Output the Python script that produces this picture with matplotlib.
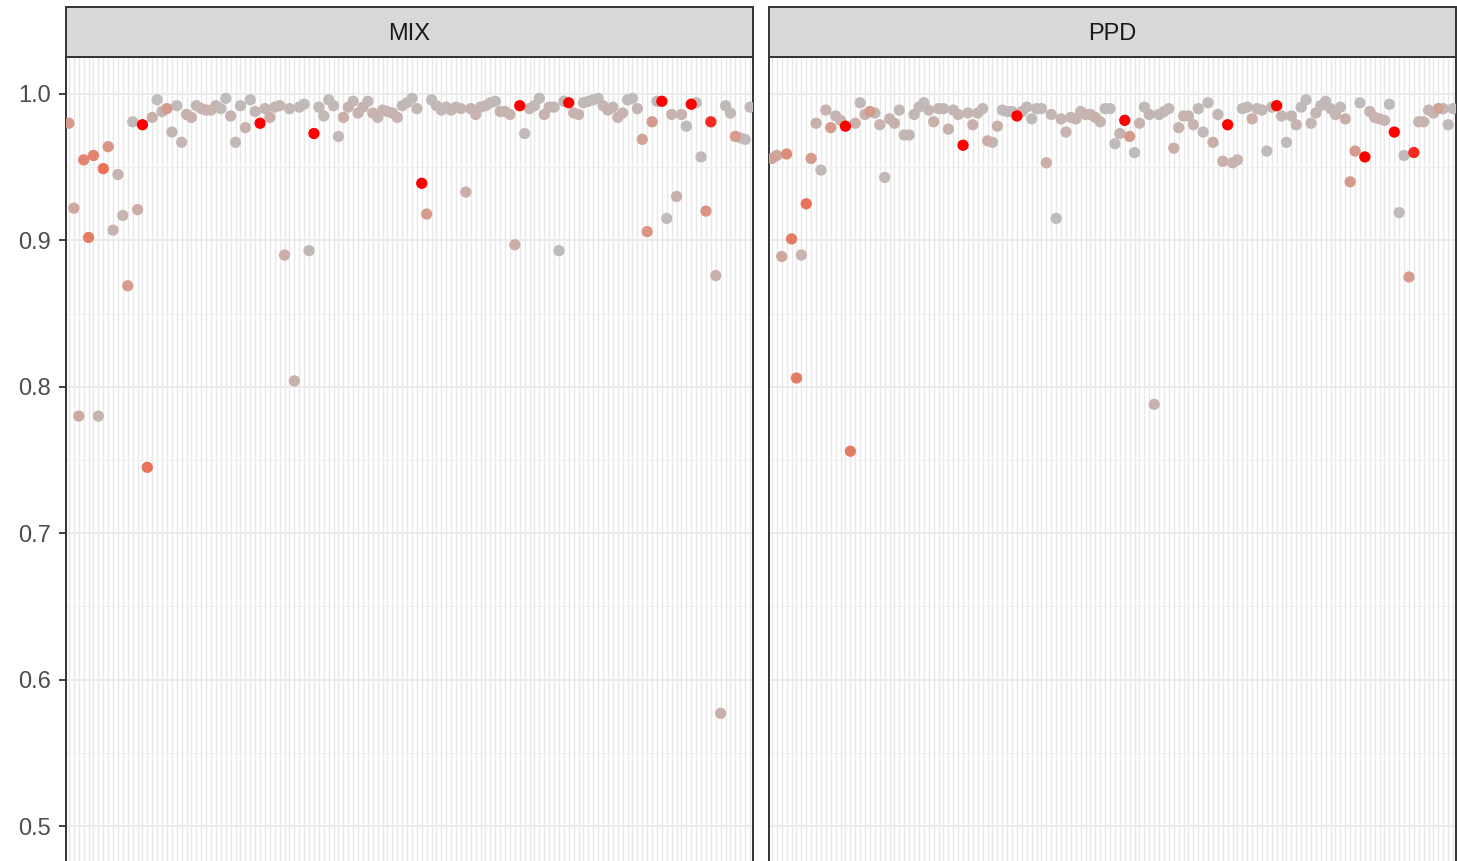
import numpy as np
import matplotlib.pyplot as plt
from matplotlib.colors import LinearSegmentedColormap
from matplotlib.patches import Rectangle

plt.rcParams['font.family'] = ['Liberation Sans', 'DejaVu Sans']

# one score per item (140 items) for each method, plus a 0..1 colour weight
mix_score = [
    0.980, 0.922, 0.780, 0.955, 0.902, 0.958, 0.780, 0.949, 0.964, 0.907,
    0.945, 0.917, 0.869, 0.981, 0.921, 0.979, 0.745, 0.984, 0.996, 0.988,
    0.990, 0.974, 0.992, 0.967, 0.986, 0.984, 0.992, 0.990, 0.989, 0.989,
    0.992, 0.990, 0.997, 0.985, 0.967, 0.992, 0.977, 0.996, 0.988, 0.980,
    0.990, 0.984, 0.991, 0.992, 0.890, 0.990, 0.804, 0.991, 0.993, 0.893,
    0.973, 0.991, 0.985, 0.996, 0.992, 0.971, 0.984, 0.991, 0.995, 0.987,
    0.991, 0.995, 0.987, 0.984, 0.989, 0.988, 0.987, 0.984, 0.992, 0.994,
    0.997, 0.990, 0.939, 0.918, 0.996, 0.992, 0.989, 0.991, 0.989, 0.991,
    0.990, 0.933, 0.990, 0.986, 0.991, 0.992, 0.994, 0.995, 0.988, 0.988,
    0.986, 0.897, 0.992, 0.973, 0.990, 0.992, 0.997, 0.986, 0.991, 0.991,
    0.893, 0.995, 0.994, 0.987, 0.986, 0.994, 0.995, 0.996, 0.997, 0.992,
    0.989, 0.991, 0.984, 0.987, 0.996, 0.997, 0.990, 0.969, 0.906, 0.981,
    0.995, 0.995, 0.915, 0.986, 0.930, 0.986, 0.978, 0.993, 0.994, 0.957,
    0.920, 0.981, 0.876, 0.577, 0.992, 0.987, 0.971, 0.970, 0.969, 0.991,
]
mix_heat = [
    0.45, 0.35, 0.35, 0.60, 0.65, 0.60, 0.20, 0.70, 0.50, 0.20,
    0.20, 0.20, 0.45, 0.05, 0.30, 1.00, 0.70, 0.25, 0.00, 0.20,
    0.45, 0.15, 0.05, 0.15, 0.25, 0.25, 0.15, 0.20, 0.20, 0.20,
    0.10, 0.05, 0.00, 0.20, 0.10, 0.10, 0.20, 0.05, 0.15, 1.00,
    0.15, 0.30, 0.15, 0.15, 0.30, 0.10, 0.25, 0.10, 0.05, 0.10,
    1.00, 0.10, 0.10, 0.05, 0.10, 0.10, 0.30, 0.20, 0.10, 0.20,
    0.20, 0.10, 0.20, 0.15, 0.20, 0.20, 0.20, 0.20, 0.10, 0.05,
    0.05, 0.15, 1.00, 0.45, 0.05, 0.10, 0.10, 0.10, 0.15, 0.10,
    0.15, 0.30, 0.20, 0.20, 0.15, 0.10, 0.10, 0.05, 0.20, 0.20,
    0.20, 0.30, 1.00, 0.05, 0.15, 0.10, 0.05, 0.20, 0.15, 0.10,
    0.05, 0.10, 1.00, 0.20, 0.20, 0.10, 0.05, 0.05, 0.05, 0.15,
    0.20, 0.15, 0.20, 0.20, 0.05, 0.05, 0.15, 0.40, 0.50, 0.45,
    0.05, 1.00, 0.05, 0.20, 0.25, 0.20, 0.05, 1.00, 0.05, 0.05,
    0.50, 0.90, 0.25, 0.25, 0.05, 0.10, 0.45, 0.05, 0.05, 0.05,
]
ppd_score = [
    0.956, 0.958, 0.889, 0.959, 0.901, 0.806, 0.890, 0.925, 0.956, 0.980,
    0.948, 0.989, 0.977, 0.985, 0.982, 0.978, 0.756, 0.980, 0.994, 0.986,
    0.988, 0.987, 0.979, 0.943, 0.983, 0.980, 0.989, 0.972, 0.972, 0.986,
    0.991, 0.994, 0.989, 0.981, 0.990, 0.990, 0.976, 0.989, 0.986, 0.965,
    0.987, 0.979, 0.987, 0.990, 0.968, 0.967, 0.978, 0.989, 0.988, 0.988,
    0.985, 0.988, 0.991, 0.983, 0.990, 0.990, 0.953, 0.986, 0.915, 0.983,
    0.974, 0.984, 0.983, 0.988, 0.986, 0.986, 0.984, 0.981, 0.990, 0.990,
    0.966, 0.973, 0.982, 0.971, 0.960, 0.980, 0.991, 0.986, 0.788, 0.986,
    0.988, 0.990, 0.963, 0.977, 0.985, 0.985, 0.979, 0.990, 0.974, 0.994,
    0.967, 0.986, 0.954, 0.979, 0.953, 0.955, 0.990, 0.991, 0.983, 0.990,
    0.989, 0.961, 0.991, 0.992, 0.985, 0.967, 0.985, 0.979, 0.991, 0.996,
    0.980, 0.987, 0.992, 0.995, 0.990, 0.986, 0.991, 0.983, 0.940, 0.961,
    0.994, 0.957, 0.988, 0.984, 0.983, 0.982, 0.993, 0.974, 0.919, 0.958,
    0.875, 0.960, 0.981, 0.981, 0.989, 0.987, 0.990, 0.990, 0.979, 0.990,
]
ppd_heat = [
    0.40, 0.35, 0.35, 0.55, 0.65, 0.65, 0.20, 0.70, 0.45, 0.25,
    0.10, 0.20, 0.45, 0.15, 0.20, 1.00, 0.65, 0.25, 0.05, 0.20,
    0.45, 0.10, 0.20, 0.10, 0.20, 0.25, 0.10, 0.15, 0.15, 0.10,
    0.10, 0.05, 0.15, 0.25, 0.10, 0.15, 0.25, 0.10, 0.20, 1.00,
    0.15, 0.25, 0.15, 0.10, 0.30, 0.15, 0.25, 0.05, 0.10, 0.10,
    1.00, 0.15, 0.10, 0.05, 0.10, 0.10, 0.30, 0.15, 0.05, 0.15,
    0.20, 0.15, 0.20, 0.15, 0.20, 0.20, 0.25, 0.20, 0.05, 0.05,
    0.05, 0.20, 1.00, 0.45, 0.05, 0.20, 0.05, 0.15, 0.20, 0.15,
    0.10, 0.10, 0.30, 0.20, 0.20, 0.20, 0.20, 0.10, 0.05, 0.05,
    0.30, 0.15, 0.25, 1.00, 0.20, 0.20, 0.10, 0.10, 0.30, 0.10,
    0.10, 0.05, 0.10, 1.00, 0.15, 0.05, 0.15, 0.20, 0.05, 0.05,
    0.15, 0.15, 0.10, 0.05, 0.10, 0.15, 0.05, 0.30, 0.45, 0.45,
    0.05, 1.00, 0.20, 0.20, 0.20, 0.20, 0.05, 1.00, 0.05, 0.05,
    0.45, 0.90, 0.20, 0.20, 0.15, 0.15, 0.40, 0.10, 0.05, 0.05,
]
panels = ["MIX", "PPD"]
y_ticks = [0.5, 0.6, 0.7, 0.8, 0.9, 1.0]

cmap = LinearSegmentedColormap.from_list(
    "grey_red",
    [(0.0, "#BEBEBE"), (0.3, "#CBAEA7"), (0.5, "#DA9584"),
     (0.75, "#EE6A4F"), (1.0, "#FF0000")])

W, H = 1457, 861
fig = plt.figure(figsize=(W / 100, H / 100), dpi=100)

lefts = [66, 769]
panel_w = 687
top_px, bot_px = 57, 872
ylim = (0.5 - (bot_px - 826) / 1465, 1.0 + (94 - top_px) / 1465)

data = [(mix_score, mix_heat), (ppd_score, ppd_heat)]
for k, (name, (score, heat)) in enumerate(zip(panels, data)):
    ax = fig.add_axes([lefts[k] / W, 1 - bot_px / H,
                       panel_w / W, (bot_px - top_px) / H])
    n = len(score)
    x = np.arange(1, n + 1)
    ax.set_xlim(0.4, n + 0.6)
    ax.set_ylim(*ylim)

    # theme_bw-like grid
    for xi in x:
        ax.axvline(xi, color="#E8E8E8", lw=1.0, zorder=0)
    for yv in np.arange(0.45, 1.05, 0.1):
        ax.axhline(yv, color="#F0F0F0", lw=0.8, zorder=0.5)
    for yv in y_ticks:
        ax.axhline(yv, color="#EBEBEB", lw=1.4, zorder=0.5)

    order = np.argsort(heat, kind="stable")
    ax.scatter(x[order], np.array(score)[order], c=np.array(heat)[order],
               cmap=cmap, vmin=0, vmax=1, s=66, linewidths=0, zorder=3)

    ax.set_xticks([])
    ax.set_yticks(y_ticks)
    if k == 0:
        ax.set_yticklabels([f"{v:.1f}" for v in y_ticks])
        ax.tick_params(axis="y", length=5, width=1.3, color="#333333",
                       labelcolor="#4D4D4D", labelsize=17, pad=6)
    else:
        ax.tick_params(axis="y", length=0, labelleft=False)
    for side, sp in ax.spines.items():
        sp.set_color("#333333")
        sp.set_linewidth(1.4)

    # facet strip
    strip = Rectangle((lefts[k] / W, 1 - top_px / H), panel_w / W, 50 / H,
                      transform=fig.transFigure, facecolor="#D9D9D9",
                      edgecolor="#333333", lw=1.4)
    fig.patches.append(strip)
    fig.text((lefts[k] + panel_w / 2) / W, 1 - 34 / H, name,
             ha="center", va="center", fontsize=17, color="#1A1A1A")

fig.savefig("out.png", dpi=100)
